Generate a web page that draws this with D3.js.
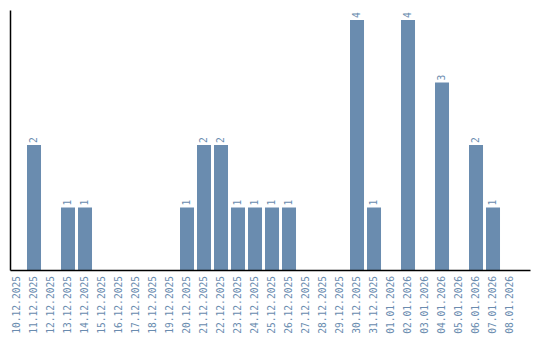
<!DOCTYPE html>
<html><head><meta charset="utf-8">
<script src="https://cdn.jsdelivr.net/npm/d3@7"></script>
<style>body{margin:0;background:#fff}svg{display:block}</style>
</head><body><svg id="c" width="540" height="340"></svg>
<script>
const categories = ["10.12.2025","11.12.2025","12.12.2025","13.12.2025","14.12.2025","15.12.2025","16.12.2025","17.12.2025","18.12.2025","19.12.2025","20.12.2025","21.12.2025","22.12.2025","23.12.2025","24.12.2025","25.12.2025","26.12.2025","27.12.2025","28.12.2025","29.12.2025","30.12.2025","31.12.2025","01.01.2026","02.01.2026","03.01.2026","04.01.2026","05.01.2026","06.01.2026","07.01.2026","08.01.2026"];
const values = [0,2,0,1,1,0,0,0,0,0,1,2,2,1,1,1,1,0,0,0,4,1,0,4,0,3,0,2,1,0];

const svg = d3.select("#c");
const color = "#6a8caf";
const font = "DejaVu Sans Mono";
const x = d3.scaleBand().domain(categories).range([10, 530]).paddingInner(0.176).paddingOuter(0.382).align(0);
const y = d3.scaleLinear().domain([0, d3.max(values) * 1.04]).range([270, 10]);

const data = categories.map((c, i) => ({c, v: values[i]})).filter(d => d.v > 0);

svg.append("g").selectAll("rect").data(data).join("rect")
  .attr("x", d => x(d.c)).attr("width", x.bandwidth())
  .attr("y", d => y(d.v)).attr("height", d => y(0) - y(d.v))
  .attr("fill", color);

svg.append("g").selectAll("text").data(data).join("text")
  .attr("transform", d => `translate(${x(d.c) + x.bandwidth()/2},${y(d.v) - 2}) rotate(-90)`)
  .attr("dy", "0.35em").attr("text-anchor", "start")
  .attr("font-family", font).attr("font-size", "9.6px").attr("fill", color)
  .text(d => d.v);

const xAxis = svg.append("g").attr("transform", "translate(0,270)")
  .call(d3.axisBottom(x).tickSize(0).tickSizeOuter(0));
xAxis.select(".domain").attr("stroke", "#000").attr("stroke-width", 1.5);
xAxis.selectAll("text")
  .attr("transform", "rotate(-90)").attr("text-anchor", "end")
  .attr("x", -6).attr("y", 0).attr("dy", "0.35em")
  .attr("font-family", font).attr("font-size", "9.6px").attr("fill", color);

const yAxis = svg.append("g").attr("transform", "translate(10,0)")
  .call(d3.axisLeft(y).ticks(0).tickSize(0).tickSizeOuter(0).tickFormat(""));
yAxis.select(".domain").attr("stroke", "#000").attr("stroke-width", 1.5);
</script></body></html>
